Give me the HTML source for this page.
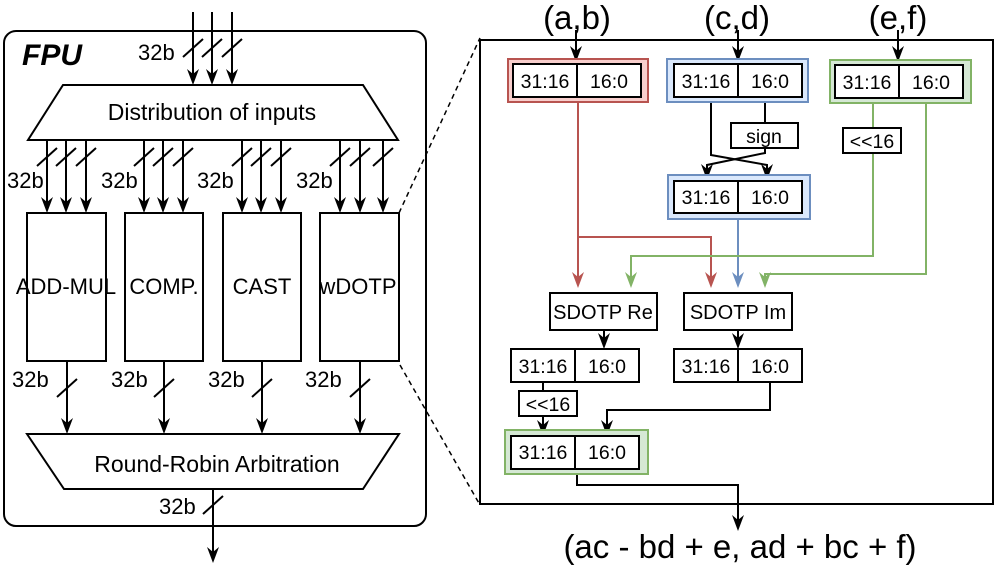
<!DOCTYPE html>
<html><head><meta charset="utf-8"><style>html,body{margin:0;padding:0;background:#fff}svg{display:block}text{font-family:"Liberation Sans",Arial,sans-serif;fill:#000}</style></head><body>
<svg width="997" height="579" viewBox="0 0 997 579" xmlns="http://www.w3.org/2000/svg">
<g stroke="#000" stroke-width="2" fill="none">
<rect x="4" y="31" width="422" height="495" rx="12"/>
<polygon points="63,85 363,85 398,140 28,140" fill="#fff"/>
<polygon points="27,434 399,434 363,489 64,489" fill="#fff"/>
<rect x="27" y="213" width="79" height="148"/>
<rect x="125" y="213" width="78" height="148"/>
<rect x="223" y="213" width="78" height="148"/>
<rect x="320" y="213" width="79" height="148"/>
<line x1="399" y1="213" x2="480" y2="38" stroke-dasharray="5,4" stroke-width="1.5"/>
<line x1="400" y1="365" x2="480" y2="505" stroke-dasharray="5,4" stroke-width="1.5"/>
<rect x="480" y="40" width="513" height="464"/>
</g>
<g id="arrows" stroke="#000" stroke-width="2" fill="none">
</g>
<script>
(function(){
var g=document.getElementById('arrows'),NS='http://www.w3.org/2000/svg';
function L(d,c){var p=document.createElementNS(NS,'path');p.setAttribute('d',d);p.setAttribute('stroke',c||'#000');p.setAttribute('fill','none');p.setAttribute('stroke-width','2');g.appendChild(p);}
function head(x,y,c){var p=document.createElementNS(NS,'path');p.setAttribute('d','M'+(x-6)+','+(y-16)+' L'+x+','+(y-11)+' L'+(x+6)+','+(y-16)+' L'+x+','+y+' Z');p.setAttribute('fill',c||'#000');p.setAttribute('stroke','none');g.appendChild(p);}
function arr(x,y1,y2,c){L('M'+x+','+y1+' V'+(y2-8),c);head(x,y2,c);}
function slash(x,y){L('M'+(x-10)+','+(y+9)+' L'+(x+10)+','+(y-9));}
[193,212,232].forEach(function(x){arr(x,12,85);slash(x,48);});
[[47,66,86],[144,163,183],[242,261,281],[340,360,383]].forEach(function(gr){gr.forEach(function(x){arr(x,140,213);slash(x,157);});});
[67,164,262,360].forEach(function(x){arr(x,361,434);slash(x,388);});
arr(213,489,563);slash(213,505);
arr(576,30,62);arr(738,30,62);arr(898,30,62);
var R='#b85450',B='#6c8ebf',G='#82b366';
L('M578,102 V279',R);head(578,288,R);
L('M578,237 H711 V279',R);head(711,288,R);
L('M738,219 V279',B);head(738,288,B);
L('M873,103 V128',G);L('M873,153 V256 H631 V279',G);head(631,288,G);
L('M926,103 V274 H765 V279',G);head(765,288,G);
L('M711,97 V155 L767,165 V170');head(767,180);
L('M765,97 V123');L('M765,148 V153 L707,165 V170');head(707,180);
arr(604,329,349);arr(738,329,349);
L('M543,382 V391');arr(543,416,436);
L('M770,382 V410 H607 V428');head(607,436);
L('M577,469 V485 H738 V522');head(738,531);
})();
</script>
<g stroke-width="2">
<rect x="508" y="59" width="140" height="43" fill="#f8cecc" stroke="#b85450"/>
<rect x="667" y="59" width="141" height="43" fill="#dae8fc" stroke="#6c8ebf"/>
<rect x="830" y="60" width="141" height="43" fill="#d5e8d4" stroke="#82b366"/>
<rect x="668" y="175" width="142" height="44" fill="#dae8fc" stroke="#6c8ebf"/>
<rect x="505" y="430" width="143" height="44" fill="#d5e8d4" stroke="#82b366"/>
<g fill="#fff" stroke="#000">
<rect x="513" y="64" width="128" height="33"/><line x1="577" y1="64" x2="577" y2="97"/>
<rect x="674" y="64" width="128" height="33"/><line x1="738" y1="64" x2="738" y2="97"/>
<rect x="835" y="65" width="128" height="33"/><line x1="899" y1="65" x2="899" y2="98"/>
<rect x="674" y="181" width="128" height="32"/><line x1="738" y1="181" x2="738" y2="213"/>
<rect x="511" y="436" width="128" height="33"/><line x1="575" y1="436" x2="575" y2="469"/>
<rect x="511" y="349" width="128" height="33"/><line x1="575" y1="349" x2="575" y2="382"/>
<rect x="674" y="349" width="128" height="33"/><line x1="738" y1="349" x2="738" y2="382"/>
<rect x="731" y="123" width="67" height="25"/>
<rect x="843" y="128" width="58" height="25"/>
<rect x="519" y="391" width="58" height="25"/>
<rect x="550" y="293" width="107" height="37"/>
<rect x="684" y="293" width="108" height="37"/>
</g>
</g>
<g font-size="19.5" text-anchor="middle">
<text x="545" y="88">31:16</text><text x="609" y="88">16:0</text>
<text x="706" y="88">31:16</text><text x="770" y="88">16:0</text>
<text x="867" y="89">31:16</text><text x="931" y="89">16:0</text>
<text x="706" y="204">31:16</text><text x="770" y="204">16:0</text>
<text x="543" y="373">31:16</text><text x="607" y="373">16:0</text>
<text x="706" y="373">31:16</text><text x="770" y="373">16:0</text>
<text x="543" y="459">31:16</text><text x="607" y="459">16:0</text>
<text x="764" y="143">sign</text>
<text x="872" y="148">&lt;&lt;16</text>
<text x="548" y="411">&lt;&lt;16</text>
<text x="603" y="319" font-size="20">SDOTP Re</text>
<text x="738" y="319" font-size="20">SDOTP Im</text>
</g>
<g font-size="33" text-anchor="middle">
<text x="577" y="29">(a,b)</text><text x="737" y="29">(c,d)</text><text x="898" y="29">(e,f)</text>
<text x="740" y="558">(ac - bd + e, ad + bc + f)</text>
</g>
<g font-size="22">
<text x="22" y="65" font-size="30" font-weight="bold" font-style="italic">FPU</text>
<text x="138" y="60">32b</text>
<text x="212" y="120" text-anchor="middle" font-size="23">Distribution of inputs</text>
<text x="217" y="472" text-anchor="middle" font-size="23">Round-Robin Arbitration</text>
<text x="7" y="188">32b</text><text x="101" y="188">32b</text><text x="197" y="188">32b</text><text x="296" y="188">32b</text>
<text x="12" y="387">32b</text><text x="111" y="387">32b</text><text x="208" y="387">32b</text><text x="305" y="387">32b</text>
<text x="159" y="514">32b</text>
<text x="66" y="294" text-anchor="middle">ADD-MUL</text>
<text x="164" y="294" text-anchor="middle">COMP.</text>
<text x="262" y="294" text-anchor="middle">CAST</text>
<text x="358" y="294" text-anchor="middle">wDOTP</text>
</g>
</svg>
</body></html>
